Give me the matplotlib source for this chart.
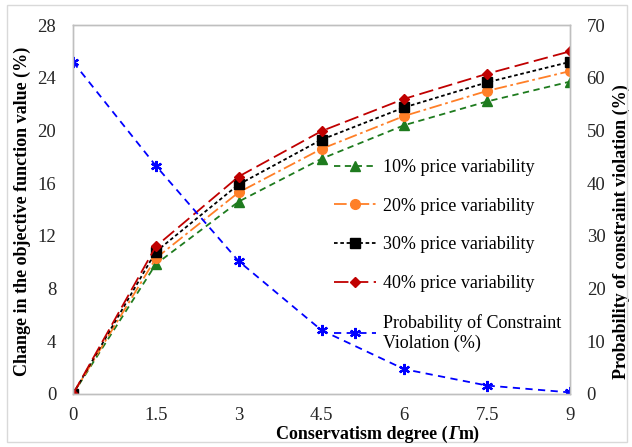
import numpy as np
import matplotlib.pyplot as plt
from matplotlib.patches import Rectangle
from matplotlib.offsetbox import TextArea, HPacker, AnnotationBbox

plt.rcParams['font.family'] = ['Liberation Serif', 'DejaVu Serif']

# ===============================
# Data
# ===============================
gamma = [0, 1.5, 3, 4.5, 6, 7.5, 9]
var10 = [0, 9.85, 14.6, 17.85, 20.4, 22.2, 23.7]
var20 = [0, 10.3, 15.3, 18.6, 21.1, 23.0, 24.5]
var30 = [0, 10.8, 15.9, 19.3, 21.75, 23.65, 25.2]
var40 = [0, 11.2, 16.5, 19.95, 22.4, 24.3, 26.0]
prob_viol = [63.0, 43.3, 25.2, 12.1, 4.7, 1.6, 0.3]

gray = "#bfbfbf"

fig = plt.figure(figsize=(6.32, 4.47), dpi=100)
ax = fig.add_axes([73/632, 1-394/447, (570-73)/632, (394-25)/447])
ax2 = ax.twinx()

ax.plot(gamma, var10, color="#1e7b1e", ls=(0, (3.5, 2.5)), lw=1.3, marker="^", ms=7,
        label="10% price variability")
ax.plot(gamma, var20, color="#ff7f27", ls=(0, (7, 2, 1.5, 2)), lw=1.3, marker="o", ms=7,
        label="20% price variability")
ax.plot(gamma, var30, color="black", ls=(0, (2, 1.5)), lw=1.3, marker="s", ms=7,
        label="30% price variability")
ax.plot(gamma, var40, color="#c00000", ls=(0, (8, 3)), lw=1.3, marker="D", ms=5.5,
        label="40% price variability")
ax2.plot(gamma, prob_viol, color="#0000ff", ls=(0, (4, 3)), lw=1.3, marker=(6, 2, 0), ms=8,
         mew=1.6, label="Probability of Constraint\nViolation (%)")

ax.set_xlim(0, 9)
ax.set_ylim(0, 28)
ax2.set_ylim(0, 70)
ax.set_xticks(gamma)
ax.set_xticklabels(["0", "1.5", "3", "4.5", "6", "7.5", "9"])
ax.set_yticks(np.arange(0, 29, 4))
ax2.set_yticks(np.arange(0, 71, 10))

for a in (ax, ax2):
    a.tick_params(length=0, labelsize=13.5, labelcolor="#262626")
    for s in a.spines.values():
        s.set_color(gray)
        s.set_linewidth(1.0)
ax.tick_params(axis="y", pad=12)
ax.tick_params(axis="x", pad=9)
ax2.tick_params(axis="y", pad=12)

ax.set_ylabel("Change in the objective function value (%)", fontsize=13, fontweight="bold")
ax.yaxis.set_label_coords(-0.085, 0.495)
ax2.set_ylabel("Probability of constraint violation (%)", fontsize=13, fontweight="bold",
               rotation=90)
ax2.yaxis.set_label_coords(1.085, 0.44)

# x label with italic Gamma
bold = dict(fontsize=13, fontweight="bold", color="black")
parts = [TextArea("Conservatism degree (", textprops=bold),
         TextArea("Γ", textprops=dict(bold, fontstyle="italic")),
         TextArea("m)", textprops=bold)]
xl = HPacker(children=parts, align="baseline", pad=0, sep=0)
fig.add_artist(AnnotationBbox(xl, (378/632, 1-434/447), xycoords="figure fraction",
                              frameon=False, box_alignment=(0.5, 0.5)))

h1, l1 = ax.get_legend_handles_labels()
h2, l2 = ax2.get_legend_handles_labels()
ax2.legend(h1 + h2, l1 + l2, loc="upper left", bbox_to_anchor=(334/632, 1-159/447),
           bbox_transform=fig.transFigure, frameon=False, fontsize=13,
           handlelength=2.3, handletextpad=0.4, labelspacing=1.2,
           borderaxespad=0, borderpad=0)

# outer chart border
fig.patches.append(Rectangle((7/632, 5/447), 620/632, 437/447, transform=fig.transFigure,
                             fill=False, edgecolor="#d9d9d9", lw=1))

plt.savefig("out.png", dpi=100)
